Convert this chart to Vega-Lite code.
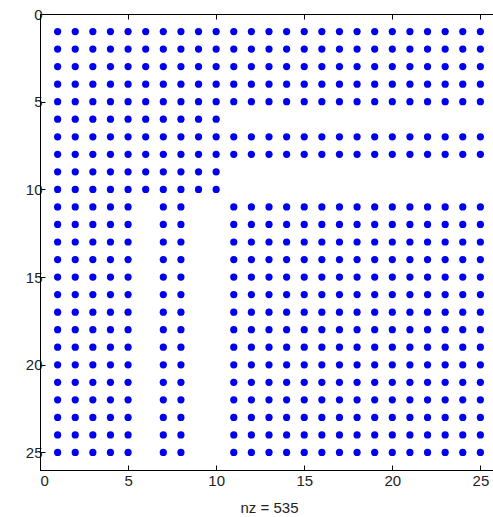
{
  "$schema": "https://vega.github.io/schema/vega-lite/v6.json",
  "autosize": "none",
  "padding": {"left": 40, "top": 14, "right": 0, "bottom": 47},
  "width": 458,
  "height": 456,
  "background": "white",
  "config": {
    "view": {"stroke": "black", "strokeWidth": 1},
    "axis": {
      "grid": false,
      "domainColor": "black",
      "tickColor": "black",
      "tickSize": -5,
      "labelFont": "Liberation Sans",
      "labelFontSize": 15,
      "labelColor": "#222",
      "titleFont": "Liberation Sans",
      "titleFontSize": 15,
      "titleFontWeight": "normal",
      "titleColor": "#222"
    }
  },
  "data": {"values": [
{"r":1,"c":1},{"r":1,"c":2},{"r":1,"c":3},{"r":1,"c":4},{"r":1,"c":5},{"r":1,"c":6},{"r":1,"c":7},{"r":1,"c":8},{"r":1,"c":9},{"r":1,"c":10},{"r":1,"c":11},{"r":1,"c":12},{"r":1,"c":13},{"r":1,"c":14},{"r":1,"c":15},{"r":1,"c":16},{"r":1,"c":17},{"r":1,"c":18},{"r":1,"c":19},{"r":1,"c":20},{"r":1,"c":21},{"r":1,"c":22},{"r":1,"c":23},{"r":1,"c":24},{"r":1,"c":25},
{"r":2,"c":1},{"r":2,"c":2},{"r":2,"c":3},{"r":2,"c":4},{"r":2,"c":5},{"r":2,"c":6},{"r":2,"c":7},{"r":2,"c":8},{"r":2,"c":9},{"r":2,"c":10},{"r":2,"c":11},{"r":2,"c":12},{"r":2,"c":13},{"r":2,"c":14},{"r":2,"c":15},{"r":2,"c":16},{"r":2,"c":17},{"r":2,"c":18},{"r":2,"c":19},{"r":2,"c":20},{"r":2,"c":21},{"r":2,"c":22},{"r":2,"c":23},{"r":2,"c":24},{"r":2,"c":25},
{"r":3,"c":1},{"r":3,"c":2},{"r":3,"c":3},{"r":3,"c":4},{"r":3,"c":5},{"r":3,"c":6},{"r":3,"c":7},{"r":3,"c":8},{"r":3,"c":9},{"r":3,"c":10},{"r":3,"c":11},{"r":3,"c":12},{"r":3,"c":13},{"r":3,"c":14},{"r":3,"c":15},{"r":3,"c":16},{"r":3,"c":17},{"r":3,"c":18},{"r":3,"c":19},{"r":3,"c":20},{"r":3,"c":21},{"r":3,"c":22},{"r":3,"c":23},{"r":3,"c":24},{"r":3,"c":25},
{"r":4,"c":1},{"r":4,"c":2},{"r":4,"c":3},{"r":4,"c":4},{"r":4,"c":5},{"r":4,"c":6},{"r":4,"c":7},{"r":4,"c":8},{"r":4,"c":9},{"r":4,"c":10},{"r":4,"c":11},{"r":4,"c":12},{"r":4,"c":13},{"r":4,"c":14},{"r":4,"c":15},{"r":4,"c":16},{"r":4,"c":17},{"r":4,"c":18},{"r":4,"c":19},{"r":4,"c":20},{"r":4,"c":21},{"r":4,"c":22},{"r":4,"c":23},{"r":4,"c":24},{"r":4,"c":25},
{"r":5,"c":1},{"r":5,"c":2},{"r":5,"c":3},{"r":5,"c":4},{"r":5,"c":5},{"r":5,"c":6},{"r":5,"c":7},{"r":5,"c":8},{"r":5,"c":9},{"r":5,"c":10},{"r":5,"c":11},{"r":5,"c":12},{"r":5,"c":13},{"r":5,"c":14},{"r":5,"c":15},{"r":5,"c":16},{"r":5,"c":17},{"r":5,"c":18},{"r":5,"c":19},{"r":5,"c":20},{"r":5,"c":21},{"r":5,"c":22},{"r":5,"c":23},{"r":5,"c":24},{"r":5,"c":25},
{"r":6,"c":1},{"r":6,"c":2},{"r":6,"c":3},{"r":6,"c":4},{"r":6,"c":5},{"r":6,"c":6},{"r":6,"c":7},{"r":6,"c":8},{"r":6,"c":9},{"r":6,"c":10},
{"r":7,"c":1},{"r":7,"c":2},{"r":7,"c":3},{"r":7,"c":4},{"r":7,"c":5},{"r":7,"c":6},{"r":7,"c":7},{"r":7,"c":8},{"r":7,"c":9},{"r":7,"c":10},{"r":7,"c":11},{"r":7,"c":12},{"r":7,"c":13},{"r":7,"c":14},{"r":7,"c":15},{"r":7,"c":16},{"r":7,"c":17},{"r":7,"c":18},{"r":7,"c":19},{"r":7,"c":20},{"r":7,"c":21},{"r":7,"c":22},{"r":7,"c":23},{"r":7,"c":24},{"r":7,"c":25},
{"r":8,"c":1},{"r":8,"c":2},{"r":8,"c":3},{"r":8,"c":4},{"r":8,"c":5},{"r":8,"c":6},{"r":8,"c":7},{"r":8,"c":8},{"r":8,"c":9},{"r":8,"c":10},{"r":8,"c":11},{"r":8,"c":12},{"r":8,"c":13},{"r":8,"c":14},{"r":8,"c":15},{"r":8,"c":16},{"r":8,"c":17},{"r":8,"c":18},{"r":8,"c":19},{"r":8,"c":20},{"r":8,"c":21},{"r":8,"c":22},{"r":8,"c":23},{"r":8,"c":24},{"r":8,"c":25},
{"r":9,"c":1},{"r":9,"c":2},{"r":9,"c":3},{"r":9,"c":4},{"r":9,"c":5},{"r":9,"c":6},{"r":9,"c":7},{"r":9,"c":8},{"r":9,"c":9},{"r":9,"c":10},
{"r":10,"c":1},{"r":10,"c":2},{"r":10,"c":3},{"r":10,"c":4},{"r":10,"c":5},{"r":10,"c":6},{"r":10,"c":7},{"r":10,"c":8},{"r":10,"c":9},{"r":10,"c":10},
{"r":11,"c":1},{"r":11,"c":2},{"r":11,"c":3},{"r":11,"c":4},{"r":11,"c":5},{"r":11,"c":7},{"r":11,"c":8},{"r":11,"c":11},{"r":11,"c":12},{"r":11,"c":13},{"r":11,"c":14},{"r":11,"c":15},{"r":11,"c":16},{"r":11,"c":17},{"r":11,"c":18},{"r":11,"c":19},{"r":11,"c":20},{"r":11,"c":21},{"r":11,"c":22},{"r":11,"c":23},{"r":11,"c":24},{"r":11,"c":25},
{"r":12,"c":1},{"r":12,"c":2},{"r":12,"c":3},{"r":12,"c":4},{"r":12,"c":5},{"r":12,"c":7},{"r":12,"c":8},{"r":12,"c":11},{"r":12,"c":12},{"r":12,"c":13},{"r":12,"c":14},{"r":12,"c":15},{"r":12,"c":16},{"r":12,"c":17},{"r":12,"c":18},{"r":12,"c":19},{"r":12,"c":20},{"r":12,"c":21},{"r":12,"c":22},{"r":12,"c":23},{"r":12,"c":24},{"r":12,"c":25},
{"r":13,"c":1},{"r":13,"c":2},{"r":13,"c":3},{"r":13,"c":4},{"r":13,"c":5},{"r":13,"c":7},{"r":13,"c":8},{"r":13,"c":11},{"r":13,"c":12},{"r":13,"c":13},{"r":13,"c":14},{"r":13,"c":15},{"r":13,"c":16},{"r":13,"c":17},{"r":13,"c":18},{"r":13,"c":19},{"r":13,"c":20},{"r":13,"c":21},{"r":13,"c":22},{"r":13,"c":23},{"r":13,"c":24},{"r":13,"c":25},
{"r":14,"c":1},{"r":14,"c":2},{"r":14,"c":3},{"r":14,"c":4},{"r":14,"c":5},{"r":14,"c":7},{"r":14,"c":8},{"r":14,"c":11},{"r":14,"c":12},{"r":14,"c":13},{"r":14,"c":14},{"r":14,"c":15},{"r":14,"c":16},{"r":14,"c":17},{"r":14,"c":18},{"r":14,"c":19},{"r":14,"c":20},{"r":14,"c":21},{"r":14,"c":22},{"r":14,"c":23},{"r":14,"c":24},{"r":14,"c":25},
{"r":15,"c":1},{"r":15,"c":2},{"r":15,"c":3},{"r":15,"c":4},{"r":15,"c":5},{"r":15,"c":7},{"r":15,"c":8},{"r":15,"c":11},{"r":15,"c":12},{"r":15,"c":13},{"r":15,"c":14},{"r":15,"c":15},{"r":15,"c":16},{"r":15,"c":17},{"r":15,"c":18},{"r":15,"c":19},{"r":15,"c":20},{"r":15,"c":21},{"r":15,"c":22},{"r":15,"c":23},{"r":15,"c":24},{"r":15,"c":25},
{"r":16,"c":1},{"r":16,"c":2},{"r":16,"c":3},{"r":16,"c":4},{"r":16,"c":5},{"r":16,"c":7},{"r":16,"c":8},{"r":16,"c":11},{"r":16,"c":12},{"r":16,"c":13},{"r":16,"c":14},{"r":16,"c":15},{"r":16,"c":16},{"r":16,"c":17},{"r":16,"c":18},{"r":16,"c":19},{"r":16,"c":20},{"r":16,"c":21},{"r":16,"c":22},{"r":16,"c":23},{"r":16,"c":24},{"r":16,"c":25},
{"r":17,"c":1},{"r":17,"c":2},{"r":17,"c":3},{"r":17,"c":4},{"r":17,"c":5},{"r":17,"c":7},{"r":17,"c":8},{"r":17,"c":11},{"r":17,"c":12},{"r":17,"c":13},{"r":17,"c":14},{"r":17,"c":15},{"r":17,"c":16},{"r":17,"c":17},{"r":17,"c":18},{"r":17,"c":19},{"r":17,"c":20},{"r":17,"c":21},{"r":17,"c":22},{"r":17,"c":23},{"r":17,"c":24},{"r":17,"c":25},
{"r":18,"c":1},{"r":18,"c":2},{"r":18,"c":3},{"r":18,"c":4},{"r":18,"c":5},{"r":18,"c":7},{"r":18,"c":8},{"r":18,"c":11},{"r":18,"c":12},{"r":18,"c":13},{"r":18,"c":14},{"r":18,"c":15},{"r":18,"c":16},{"r":18,"c":17},{"r":18,"c":18},{"r":18,"c":19},{"r":18,"c":20},{"r":18,"c":21},{"r":18,"c":22},{"r":18,"c":23},{"r":18,"c":24},{"r":18,"c":25},
{"r":19,"c":1},{"r":19,"c":2},{"r":19,"c":3},{"r":19,"c":4},{"r":19,"c":5},{"r":19,"c":7},{"r":19,"c":8},{"r":19,"c":11},{"r":19,"c":12},{"r":19,"c":13},{"r":19,"c":14},{"r":19,"c":15},{"r":19,"c":16},{"r":19,"c":17},{"r":19,"c":18},{"r":19,"c":19},{"r":19,"c":20},{"r":19,"c":21},{"r":19,"c":22},{"r":19,"c":23},{"r":19,"c":24},{"r":19,"c":25},
{"r":20,"c":1},{"r":20,"c":2},{"r":20,"c":3},{"r":20,"c":4},{"r":20,"c":5},{"r":20,"c":7},{"r":20,"c":8},{"r":20,"c":11},{"r":20,"c":12},{"r":20,"c":13},{"r":20,"c":14},{"r":20,"c":15},{"r":20,"c":16},{"r":20,"c":17},{"r":20,"c":18},{"r":20,"c":19},{"r":20,"c":20},{"r":20,"c":21},{"r":20,"c":22},{"r":20,"c":23},{"r":20,"c":24},{"r":20,"c":25},
{"r":21,"c":1},{"r":21,"c":2},{"r":21,"c":3},{"r":21,"c":4},{"r":21,"c":5},{"r":21,"c":7},{"r":21,"c":8},{"r":21,"c":11},{"r":21,"c":12},{"r":21,"c":13},{"r":21,"c":14},{"r":21,"c":15},{"r":21,"c":16},{"r":21,"c":17},{"r":21,"c":18},{"r":21,"c":19},{"r":21,"c":20},{"r":21,"c":21},{"r":21,"c":22},{"r":21,"c":23},{"r":21,"c":24},{"r":21,"c":25},
{"r":22,"c":1},{"r":22,"c":2},{"r":22,"c":3},{"r":22,"c":4},{"r":22,"c":5},{"r":22,"c":7},{"r":22,"c":8},{"r":22,"c":11},{"r":22,"c":12},{"r":22,"c":13},{"r":22,"c":14},{"r":22,"c":15},{"r":22,"c":16},{"r":22,"c":17},{"r":22,"c":18},{"r":22,"c":19},{"r":22,"c":20},{"r":22,"c":21},{"r":22,"c":22},{"r":22,"c":23},{"r":22,"c":24},{"r":22,"c":25},
{"r":23,"c":1},{"r":23,"c":2},{"r":23,"c":3},{"r":23,"c":4},{"r":23,"c":5},{"r":23,"c":7},{"r":23,"c":8},{"r":23,"c":11},{"r":23,"c":12},{"r":23,"c":13},{"r":23,"c":14},{"r":23,"c":15},{"r":23,"c":16},{"r":23,"c":17},{"r":23,"c":18},{"r":23,"c":19},{"r":23,"c":20},{"r":23,"c":21},{"r":23,"c":22},{"r":23,"c":23},{"r":23,"c":24},{"r":23,"c":25},
{"r":24,"c":1},{"r":24,"c":2},{"r":24,"c":3},{"r":24,"c":4},{"r":24,"c":5},{"r":24,"c":7},{"r":24,"c":8},{"r":24,"c":11},{"r":24,"c":12},{"r":24,"c":13},{"r":24,"c":14},{"r":24,"c":15},{"r":24,"c":16},{"r":24,"c":17},{"r":24,"c":18},{"r":24,"c":19},{"r":24,"c":20},{"r":24,"c":21},{"r":24,"c":22},{"r":24,"c":23},{"r":24,"c":24},{"r":24,"c":25},
{"r":25,"c":1},{"r":25,"c":2},{"r":25,"c":3},{"r":25,"c":4},{"r":25,"c":5},{"r":25,"c":7},{"r":25,"c":8},{"r":25,"c":11},{"r":25,"c":12},{"r":25,"c":13},{"r":25,"c":14},{"r":25,"c":15},{"r":25,"c":16},{"r":25,"c":17},{"r":25,"c":18},{"r":25,"c":19},{"r":25,"c":20},{"r":25,"c":21},{"r":25,"c":22},{"r":25,"c":23},{"r":25,"c":24},{"r":25,"c":25}
  ]},
  "layer": [
    {
      "mark": {"type": "point", "filled": true, "shape": "circle", "size": 52, "color": "#0000ee", "opacity": 1},
      "encoding": {
        "x": {"field": "c", "type": "quantitative", "scale": {"domain": [0, 26], "nice": false, "zero": false},
              "axis": {"values": [0, 5, 10, 15, 20, 25], "title": "nz = 535", "labelPadding": 8, "titlePadding": 12}},
        "y": {"field": "r", "type": "quantitative", "scale": {"domain": [0, 26], "nice": false, "zero": false, "reverse": true},
              "axis": {"values": [0, 5, 10, 15, 20, 25], "title": null, "labelPadding": 3}}
      }
    },
    {
      "mark": {"type": "point", "opacity": 0},
      "encoding": {
        "x": {"field": "c", "type": "quantitative",
              "axis": {"orient": "top", "values": [0, 5, 10, 15, 20, 25], "labels": false, "title": null}},
        "y": {"field": "r", "type": "quantitative",
              "axis": {"orient": "right", "values": [0, 5, 10, 15, 20, 25], "labels": false, "title": null}}
      }
    }
  ],
  "resolve": {"axis": {"x": "independent", "y": "independent"}}
}
